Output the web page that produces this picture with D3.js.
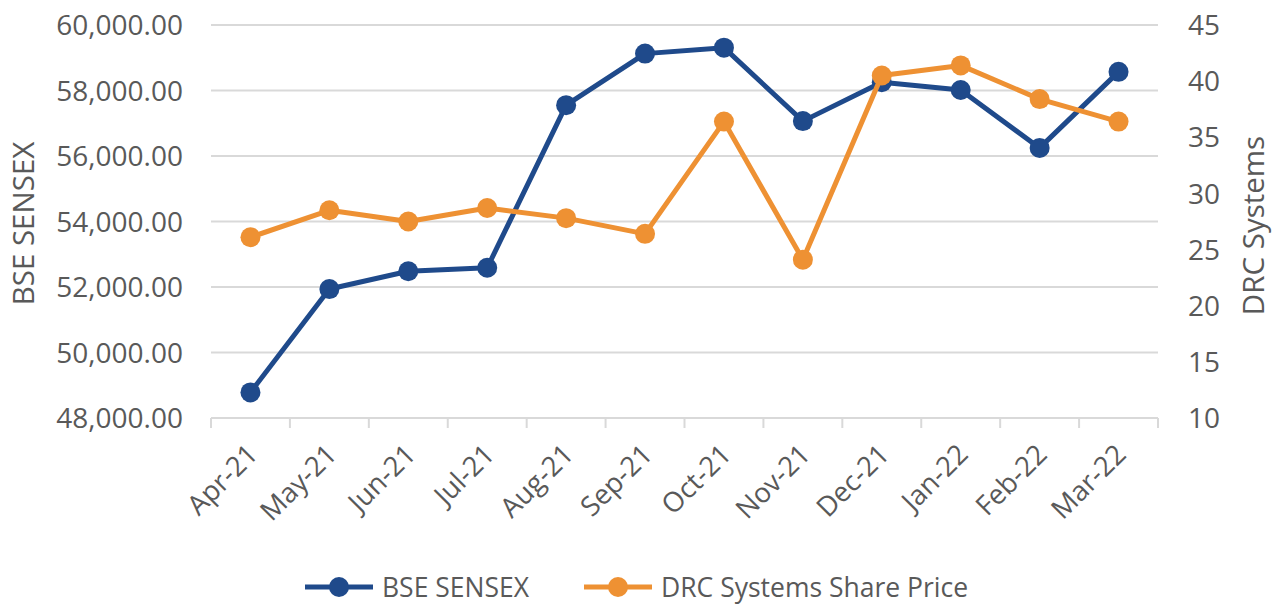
<!DOCTYPE html>
<html>
<head>
<meta charset="utf-8">
<script src="https://cdn.jsdelivr.net/npm/d3@7"></script>
<style>
  html, body { margin: 0; padding: 0; background: #ffffff; }
  svg { display: block; }
  text { font-family: "Open Sans", sans-serif; fill: #595959; }
</style>
</head>
<body>
<svg id="chart" width="1274" height="604"></svg>
<script>
const categories = ["Apr-21","May-21","Jun-21","Jul-21","Aug-21","Sep-21","Oct-21","Nov-21","Dec-21","Jan-22","Feb-22","Mar-22"];
const bseSensex = [48782, 51937, 52482, 52587, 57552, 59126, 59307, 57065, 58254, 58014, 56247, 58569];
const drcPrice = [26.1, 28.5, 27.5, 28.7, 27.8, 26.4, 36.4, 24.1, 40.5, 41.4, 38.4, 36.4];
const leftTicks = [48000, 50000, 52000, 54000, 56000, 58000, 60000];
const rightTicks = [10, 15, 20, 25, 30, 35, 40, 45];
const seriesNames = ["BSE SENSEX", "DRC Systems Share Price"];
const leftTitle = "BSE SENSEX";
const rightTitle = "DRC Systems";

const blue = "#1F4A8B";
const orange = "#EE9133";
const grid = "#D9D9D9";

const svg = d3.select("#chart");
const L = 211, R = 1158, T = 25, B = 418;

const x = d3.scaleBand().domain(categories).range([L, R]);
const yL = d3.scaleLinear().domain([48000, 60000]).range([B, T]);
const yR = d3.scaleLinear().domain([10, 45]).range([B, T]);

// gridlines
svg.append("g").selectAll("line").data(leftTicks).join("line")
  .attr("x1", L).attr("x2", R)
  .attr("y1", d => yL(d)).attr("y2", d => yL(d))
  .attr("stroke", grid).attr("stroke-width", 2);

// x axis ticks
const xTicks = categories.map((c) => x(c)).concat([R]);
svg.append("g").selectAll("line").data(xTicks).join("line")
  .attr("x1", d => d).attr("x2", d => d)
  .attr("y1", B).attr("y2", B + 10)
  .attr("stroke", grid).attr("stroke-width", 2);

// left axis labels
const fmt = d3.format(",.2f");
svg.append("g").selectAll("text").data(leftTicks).join("text")
  .attr("x", 183).attr("y", d => yL(d))
  .attr("dy", "0.36em")
  .attr("text-anchor", "end")
  .style("font-size", "28px")
  .text(d => fmt(d));

// right axis labels
svg.append("g").selectAll("text").data(rightTicks).join("text")
  .attr("x", 1188).attr("y", d => yR(d))
  .attr("dy", "0.36em")
  .attr("text-anchor", "start")
  .style("font-size", "28px")
  .text(d => d);

// axis titles
svg.append("text")
  .attr("transform", `translate(34,${(T + B) / 2 + 2}) rotate(-90)`)
  .attr("text-anchor", "middle")
  .style("font-size", "29.5px")
  .text(leftTitle);
svg.append("text")
  .attr("transform", `translate(1264,${(T + B) / 2 + 4}) rotate(-90)`)
  .attr("text-anchor", "middle")
  .style("font-size", "29.5px")
  .text(rightTitle);

// x labels
svg.append("g").selectAll("text").data(categories).join("text")
  .attr("transform", d => `translate(${x(d) + x.bandwidth() / 2 + 2},${B + 31}) rotate(-45)`)
  .attr("text-anchor", "end")
  .attr("dy", "0.36em")
  .style("font-size", "27.5px")
  .text(d => d);

const cx = d => x(d) + x.bandwidth() / 2;

function drawSeries(values, scale, color) {
  const line = d3.line().x((d, i) => cx(categories[i])).y(d => scale(d));
  svg.append("path").datum(values)
    .attr("d", line)
    .attr("fill", "none")
    .attr("stroke", color)
    .attr("stroke-width", 5)
    .attr("stroke-linejoin", "round");
  svg.append("g").selectAll("circle").data(values).join("circle")
    .attr("cx", (d, i) => cx(categories[i]))
    .attr("cy", d => scale(d))
    .attr("r", 10)
    .attr("fill", color);
}

drawSeries(bseSensex, yL, blue);
drawSeries(drcPrice, yR, orange);

// legend
const legend = [
  { name: seriesNames[0], color: blue, x0: 305 },
  { name: seriesNames[1], color: orange, x0: 584 }
];
const lg = svg.append("g");
legend.forEach(l => {
  lg.append("line").attr("x1", l.x0).attr("x2", l.x0 + 68)
    .attr("y1", 587).attr("y2", 587)
    .attr("stroke", l.color).attr("stroke-width", 5);
  lg.append("circle").attr("cx", l.x0 + 34).attr("cy", 587).attr("r", 10).attr("fill", l.color);
  lg.append("text").attr("x", l.x0 + 77).attr("y", 587).attr("dy", "0.36em")
    .style("font-size", "26.5px").text(l.name);
});
</script>
</body>
</html>
